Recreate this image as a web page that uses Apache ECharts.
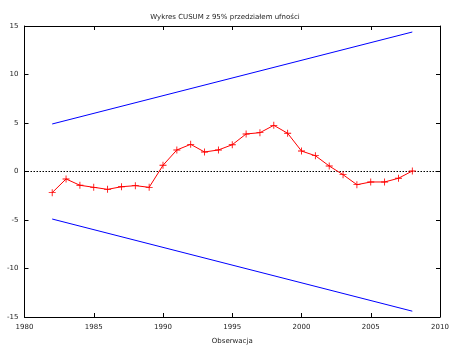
<!DOCTYPE html>
<html><head><meta charset="utf-8">
<script src="https://cdn.jsdelivr.net/npm/echarts@6/dist/echarts.min.js"></script>
<style>html,body{margin:0;padding:0;background:#fff}#c{width:450px;height:345px}</style>
</head><body><div id="c"></div>
<script>
const years = [1982,1983,1984,1985,1986,1987,1988,1989,1990,1991,1992,1993,1994,1995,1996,1997,1998,1999,2000,2001,2002,2003,2004,2005,2006,2007,2008];
const cusum = [-2.18,-0.77,-1.42,-1.63,-1.84,-1.57,-1.46,-1.63,0.64,2.22,2.80,2.01,2.22,2.76,3.87,4.0,4.76,3.94,2.11,1.63,0.57,-0.33,-1.36,-1.08,-1.08,-0.70,0.05];
const boundYears = [1982, 2008];
const upperBound = [4.9, 14.38];
const lowerBound = [-4.9, -14.4];
const xTicks = [1980,1985,1990,1995,2000,2005,2010];
const yTicks = [-15,-10,-5,0,5,10,15];

const font = 'DejaVu Sans';
const txt = '#222';
const chart = echarts.init(document.getElementById('c'), null, {renderer:'canvas'});
const axisBase = {
  axisLine:{show:true,onZero:false,lineStyle:{color:'#000',width:1}},
  axisTick:{show:true,inside:true,length:4,lineStyle:{color:'#000'}},
  splitLine:{show:false}
};
const plus = 'path://M4.4,0H5.6V4.4H10V5.6H5.6V10H4.4V5.6H0V4.4H4.4Z';
chart.setOption({
  animation:false,
  backgroundColor:'#fff',
  title:{text:'Wykres CUSUM z 95% przedziałem ufności',left:'center',top:9,
    textStyle:{fontFamily:font,fontSize:7,fontWeight:'normal',color:txt}},
  grid:{left:24.5,right:10,top:26,bottom:28,containLabel:false,outerBoundsMode:'none'},
  xAxis:[
    Object.assign({type:'value',min:xTicks[0],max:xTicks[xTicks.length-1],interval:5,
      name:'Obserwacja',nameLocation:'middle',nameGap:21,
      nameTextStyle:{fontFamily:font,fontSize:7,color:txt},
      axisLabel:{fontFamily:font,fontSize:7,color:txt,margin:7,formatter:v=>String(v)}},axisBase),
    Object.assign({type:'value',position:'top',min:xTicks[0],max:xTicks[xTicks.length-1],interval:5,
      axisLabel:{show:false}},axisBase)
  ],
  yAxis:[
    Object.assign({type:'value',min:yTicks[0],max:yTicks[yTicks.length-1],interval:5,
      axisLabel:{fontFamily:font,fontSize:7,color:txt,margin:6,formatter:v=>String(v)}},axisBase),
    Object.assign({type:'value',position:'right',min:yTicks[0],max:yTicks[yTicks.length-1],interval:5,
      axisLabel:{show:false}},axisBase)
  ],
  series:[
    {type:'line',data:[[xTicks[0],0],[xTicks[xTicks.length-1],0]],symbol:'none',silent:true,z:1,
      lineStyle:{color:'#000',width:1,type:[1.5,1.5]}},
    {type:'line',data:boundYears.map((y,i)=>[y,upperBound[i]]),symbol:'none',
      lineStyle:{color:'#0000ff',width:1}},
    {type:'line',data:boundYears.map((y,i)=>[y,lowerBound[i]]),symbol:'none',
      lineStyle:{color:'#0000ff',width:1}},
    {type:'line',data:years.map((y,i)=>[y,cusum[i]]),symbol:plus,symbolSize:7,showSymbol:true,z:3,
      lineStyle:{color:'#ff0000',width:1},itemStyle:{color:'#ff0000'}}
  ]
});
</script></body></html>
